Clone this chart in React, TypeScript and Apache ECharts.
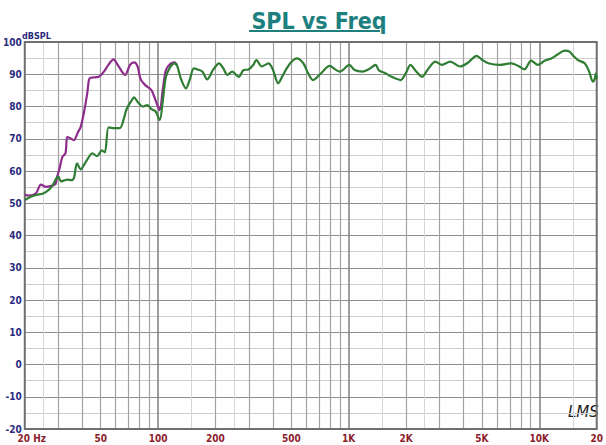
import React, { useEffect, useRef } from "react";
import * as echarts from "echarts";

// Green (measured) response: [frequency Hz, dB SPL]
const greenFreq = [20, 21.5, 23, 25, 26.8, 28, 29.3, 30, 30.9, 32, 33.4, 35, 36.2, 37.6, 39.3, 41, 43, 45.2, 47.9, 50.7, 52.6, 55, 58, 63, 66, 68.2, 72, 74.9, 78, 83, 88, 92.3, 97, 102, 106, 110, 116, 122, 126, 132, 140, 147, 154, 161, 171, 181, 195, 209, 220, 231, 245, 265, 281, 298, 315, 328, 350, 380, 400, 427, 450, 473, 500, 534, 578, 610, 650, 716, 794, 850, 898, 1008, 1073, 1181, 1280, 1385, 1441, 1559, 1680, 1871, 2000, 2110, 2250, 2425, 2600, 2846, 3084, 3407, 3848, 4200, 4697, 5000, 5398, 6201, 7122, 7800, 8357, 9054, 9827, 10654, 11556, 12500, 13574, 14418, 15000, 15950, 17290, 18200, 19120, 19500, 19800, 20000];
const greenSpl = [51.0, 52.0, 52.6, 53.0, 54.2, 55.5, 57.8, 58.3, 56.8, 57.0, 57.3, 57.2, 57.8, 62.4, 60.5, 62.0, 64.0, 65.5, 64.6, 66.4, 65.8, 73.5, 73.3, 73.3, 76.0, 79.0, 81.5, 82.8, 81.5, 80.0, 80.4, 79.2, 78.5, 75.8, 82.0, 89.2, 92.3, 93.4, 92.6, 88.5, 85.6, 88.5, 91.8, 91.5, 90.8, 88.4, 91.5, 93.4, 91.8, 89.8, 90.8, 89.2, 91.3, 91.5, 92.8, 94.4, 92.4, 93.4, 91.5, 87.2, 89.5, 91.8, 93.8, 94.9, 93.4, 90.5, 88.2, 90.3, 92.6, 91.5, 90.8, 92.9, 91.3, 90.8, 91.6, 92.9, 91.2, 90.3, 89.2, 88.2, 90.5, 92.9, 91.0, 89.2, 91.5, 93.9, 92.9, 93.9, 92.4, 93.5, 95.7, 94.5, 93.4, 92.9, 93.4, 92.5, 91.5, 94.2, 92.9, 94.2, 94.9, 96.2, 97.3, 97.0, 95.8, 94.4, 93.4, 91.0, 87.7, 88.5, 90.3, 88.5];

// Purple response (low-frequency part, merges with green above ~120 Hz)
const purpleFreq = [20, 21, 22.9, 24.3, 25.8, 27.5, 29.0, 29.5, 30.5, 31.5, 32.7, 33.4, 34.5, 36.2, 38, 39.3, 40.8, 42.5, 43.4, 44.2, 48.9, 52, 55, 58.4, 62, 67.2, 71.3, 74.9, 78, 81, 85.4, 92.3, 97, 102, 106, 110, 116, 122, 126];
const purpleSpl = [52.6, 52.4, 53.1, 55.8, 55.1, 55.4, 55.9, 58.0, 61.0, 64.4, 65.5, 70.6, 70.2, 69.6, 72.0, 73.7, 77.9, 84.0, 88.2, 88.9, 89.2, 90.8, 93.0, 94.6, 92.5, 89.8, 92.9, 93.7, 92.5, 88.5, 86.7, 85.1, 82.0, 78.9, 85.5, 91.3, 93.2, 93.7, 92.6];

// Axis tick labels
const xLabelValues = [20, 50, 100, 200, 500, 1000, 2000, 5000, 10000, 20000];
const xLabelTexts = ["20 Hz", "50", "100", "200", "500", "1K", "2K", "5K", "10K", "20"];
const decadeLines = [100, 1000, 10000];
const mainLines = [30, 40, 50, 60, 70, 80, 90, 200, 300, 400, 500, 600, 700, 800, 900, 2000, 3000, 4000, 5000, 6000, 7000, 8000, 9000];
const lightLines = [25, 150, 250, 1500, 2500, 15000];

const title = "SPL vs Freq";
const yUnit = "dBSPL";

const pairs = (xs: number[], ys: number[]) => xs.map((x, i) => [x, ys[i]]);

export default function App() {
  const ref = useRef<HTMLDivElement>(null);
  useEffect(() => {
    if (!ref.current) return;
    const chart = echarts.init(ref.current, null, { renderer: "svg" });
    const narrow = "'Liberation Sans Narrow', 'DejaVu Sans Condensed', 'Roboto', sans-serif";
    const logAxis = (extra: any) => ({
      type: "log",
      logBase: 10,
      min: 20,
      max: 20000,
      gridIndex: 0,
      axisLine: { show: false },
      axisTick: { show: false },
      minorTick: { show: false },
      minorSplitLine: { show: false },
      ...extra,
    });
    chart.setOption({
      animation: false,
      backgroundColor: "#ffffff",
      title: {
        text: title,
        left: 314,
        textAlign: "center",
        top: 4,
        textStyle: {
          fontFamily: narrow,
          fontWeight: "bold",
          fontSize: 23,
          color: "#1d7f7e",
        },
      },
      grid: {
        left: 22,
        right: 5,
        top: 42,
        bottom: 16,
        show: true,
        borderColor: "#6f6f6f",
        borderWidth: 2,
        backgroundColor: "transparent",
        z: 3,
      },
      xAxis: [
        logAxis({
          axisTick: { show: false, customValues: decadeLines },
          splitLine: { show: true, lineStyle: { color: "#7e7e7e", width: 1.5 } },
          axisLabel: {
            show: true,
            customValues: xLabelValues,
            margin: 4,
            fontFamily: narrow,
            fontWeight: "bold",
            fontSize: 10,
            color: "#8b1c2c",
            formatter: (v: number) => {
              const i = xLabelValues.indexOf(Math.round(v));
              const t = i >= 0 ? xLabelTexts[i] : String(v);
              return i === 0 ? "{pad|}" + t : t;
            },
            rich: { pad: { width: 14 } },
          },
        }),
        logAxis({
          axisTick: { show: false, customValues: mainLines },
          splitLine: { show: true, lineStyle: { color: "#a2a2a2", width: 1.2 } },
          axisLabel: { show: false },
        }),
        logAxis({
          axisTick: { show: false, customValues: lightLines },
          splitLine: { show: true, lineStyle: { color: "#d6d6d6", width: 1 } },
          axisLabel: { show: false },
        }),
      ],
      yAxis: {
        type: "value",
        min: -20,
        max: 100,
        interval: 10,
        axisLine: { show: false },
        axisTick: { show: false },
        axisLabel: {
          margin: 3,
          fontFamily: narrow,
          fontWeight: "bold",
          fontSize: 10,
          color: "#2b2b7e",
        },
        splitLine: { show: true, lineStyle: { color: "#8e8e8e", width: 1.2 } },
        minorTick: { show: false, splitNumber: 2 },
        minorSplitLine: { show: true, lineStyle: { color: "#cdcdcd", width: 1 } },
      },
      graphic: [
        {
          type: "line",
          shape: { x1: 249, y1: 31, x2: 380, y2: 31 },
          style: { stroke: "#1d7f7e", lineWidth: 2 },
          z: 10,
        },
        {
          type: "text",
          x: 22,
          y: 31,
          style: {
            text: yUnit,
            fontFamily: narrow,
            fontWeight: "bold",
            fontSize: 9,
            fill: "#2b2b7e",
          },
        },
        {
          type: "text",
          x: 568,
          y: 404,
          style: {
            text: "LMS",
            fontFamily: "'DejaVu Sans', sans-serif",
            fontStyle: "italic",
            fontSize: 15,
            fill: "#1e1e1e",
          },
        },
      ],
      series: [
        {
          type: "line",
          name: "purple",
          xAxisIndex: 0,
          data: pairs(purpleFreq, purpleSpl),
          showSymbol: false,
          smooth: 0.3,
          lineStyle: { color: "#8e2d8c", width: 2.2 },
          z: 4,
        },
        {
          type: "line",
          name: "green",
          xAxisIndex: 0,
          data: pairs(greenFreq, greenSpl),
          showSymbol: false,
          smooth: 0.3,
          lineStyle: { color: "#2f7d33", width: 2.2 },
          z: 5,
        },
      ],
    });
    return () => chart.dispose();
  }, []);
  return (
    <div
      ref={ref}
      style={{ position: "fixed", left: 0, top: 0, width: 606, height: 445 }}
    />
  );
}
